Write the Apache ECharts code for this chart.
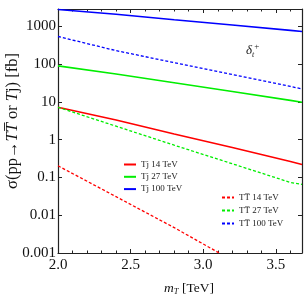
<!DOCTYPE html>
<html>
<head>
<meta charset="utf-8">
<script src="https://cdn.jsdelivr.net/npm/echarts@6/dist/echarts.min.js"></script>
<style>html,body{margin:0;padding:0;background:#fff}#c{width:305px;height:305px}</style>
</head>
<body>
<div id="c"></div>
<script>
// m_T [TeV]
var mT = [2.0, 2.4, 2.8, 3.2, 3.6, 3.68];
var tj14  = [7.24, 3.33, 1.42, 0.62, 0.264, 0.222];
var tj27  = [90.4, 54.8, 32.4, 18.9, 11.0, 9.84];
var tj100 = [2800, 2100, 1500, 1090, 787, 736];
var tt14m = [2.0, 2.4, 2.8, 3.11];
var tt14  = [0.204, 0.031, 0.0047, 0.001];
var tt27  = [7.24, 2.28, 0.718, 0.231, 0.074, 0.0655];
var tt100 = [542, 229, 110, 53.5, 25.8, 22.2];
var yTickValues = [0.001, 0.01, 0.1, 1, 10, 100, 1000];
var yTickLabels = ['0.001', '0.01', '0.1', '1', '10', '100', '1000'];
var xTickLabels = {'2': '2.0', '2.5': '2.5', '3': '3.0', '3.5': '3.5'};

function pairs(xs, ys) { return ys.map(function (v, i) { return [xs[i], v]; }); }

var FONT = 'Liberation Serif';
var RED = '#ff0000', GREEN = '#00ee00', BLUE = '#0000ff';
var NAME_TT = 'T\u0054\u0305';

function yLabel(v) {
  for (var i = 0; i < yTickValues.length; i++) {
    if (Math.abs(Math.log10(v) - Math.log10(yTickValues[i])) < 1e-6) return yTickLabels[i];
  }
  return '';
}

var axisLine = {show: true, lineStyle: {color: '#222', width: 1.2}};
var tick = {show: true, inside: true, length: 4, lineStyle: {color: '#222', width: 1}};
var chart = echarts.init(document.getElementById('c'), null, {renderer: 'canvas'});
chart.setOption({
  animation: false,
  grid: {left: 58, right: 3, top: 9, bottom: 52},
  xAxis: [{
    type: 'value', min: 2.0, max: 3.68, interval: 0.5, position: 'bottom',
    axisLine: axisLine, axisTick: tick,
    minorTick: {show: true, splitNumber: 5, length: 2.5, lineStyle: {color: '#222'}},
    splitLine: {show: false},
    axisLabel: {margin: 5, fontFamily: FONT, fontSize: 15, color: '#111',
      formatter: function (v) { return xTickLabels[String(v)] || ''; }, showMaxLabel: false}
  }, {
    type: 'value', min: 2.0, max: 3.68, interval: 0.5, position: 'top',
    axisLine: axisLine, axisTick: tick,
    minorTick: {show: true, splitNumber: 5, length: 2.5, lineStyle: {color: '#222'}},
    splitLine: {show: false}, axisLabel: {show: false}
  }],
  yAxis: [{
    type: 'log', logBase: 10, min: 0.001, max: 2900, position: 'left',
    axisLine: axisLine, axisTick: tick,
    splitLine: {show: false},
    axisLabel: {margin: 2, fontFamily: FONT, fontSize: 15, color: '#111', formatter: yLabel}
  }, {
    type: 'log', logBase: 10, min: 0.001, max: 2900, position: 'right',
    axisLine: axisLine, axisTick: tick,
    splitLine: {show: false}, axisLabel: {show: false}
  }],
  legend: [{
    orient: 'vertical', left: 123, top: 160, padding: 0, itemGap: 3.3,
    itemWidth: 12, itemHeight: 8, itemTextGap: 4,
    itemStyle: {opacity: 0},
    textStyle: {fontFamily: FONT, fontSize: 9, color: '#222'},
    data: ['Tj 14 TeV', 'Tj 27 TeV', 'Tj 100 TeV']
  }, {
    orient: 'vertical', left: 221, top: 193, padding: 0, itemGap: 4,
    itemWidth: 12, itemHeight: 8, itemTextGap: 4,
    itemStyle: {opacity: 0},
    textStyle: {fontFamily: FONT + ', DejaVu Serif', fontSize: 9, color: '#222'},
    data: [NAME_TT + ' 14 TeV', NAME_TT + ' 27 TeV', NAME_TT + ' 100 TeV']
  }],
  graphic: [{
    type: 'text', x: 12.5, y: 121, rotation: Math.PI / 2,
    style: {
      text: '{r|σ(pp→}{i|T}{i|T\u0305}{r| or }{i|T}{r|j) [fb]}',
      align: 'center', verticalAlign: 'middle',
      rich: {
        r: {fontFamily: FONT, fontSize: 16.5, fill: '#111'},
        i: {fontFamily: FONT + ', DejaVu Serif', fontStyle: 'italic', fontSize: 16.5, fill: '#111'}
      }
    }
  }, {
    type: 'text', x: 189, y: 288,
    style: {
      text: '{i|m}{s|T}{r| [TeV]}',
      align: 'center', verticalAlign: 'middle',
      rich: {
        r: {fontFamily: FONT, fontSize: 13.5, fill: '#111'},
        i: {fontFamily: FONT, fontStyle: 'italic', fontSize: 13.5, fill: '#111'},
        s: {fontFamily: FONT, fontStyle: 'italic', fontSize: 8.5, fill: '#111', padding: [7, 0, 0, 0]}
      }
    }
  }, {
    type: 'text', x: 246, y: 51,
    style: {
      text: '{i|δ}{s|t}{p|+}',
      align: 'left', verticalAlign: 'middle',
      rich: {
        i: {fontFamily: FONT, fontStyle: 'italic', fontSize: 13, fill: '#222'},
        s: {fontFamily: FONT, fontStyle: 'italic', fontSize: 8, fill: '#222', padding: [7, 0, 0, 0]},
        p: {fontFamily: FONT, fontSize: 9, fill: '#222', padding: [0, 0, 9, 0]}
      }
    }
  }],
  series: [
    {name: 'Tj 14 TeV', type: 'line', symbol: 'none', data: pairs(mT, tj14), lineStyle: {color: RED, width: 1.6}, itemStyle: {color: RED}},
    {name: 'Tj 27 TeV', type: 'line', symbol: 'none', data: pairs(mT, tj27), lineStyle: {color: GREEN, width: 1.6}, itemStyle: {color: GREEN}},
    {name: 'Tj 100 TeV', type: 'line', symbol: 'none', data: pairs(mT, tj100), lineStyle: {color: BLUE, width: 1.6}, itemStyle: {color: BLUE}},
    {name: NAME_TT + ' 14 TeV', type: 'line', symbol: 'none', data: pairs(tt14m, tt14), lineStyle: {color: RED, width: 1.3, type: [3, 2]}, itemStyle: {color: RED}},
    {name: NAME_TT + ' 27 TeV', type: 'line', symbol: 'none', data: pairs(mT, tt27), lineStyle: {color: GREEN, width: 1.3, type: [3, 2]}, itemStyle: {color: GREEN}},
    {name: NAME_TT + ' 100 TeV', type: 'line', symbol: 'none', data: pairs(mT, tt100), lineStyle: {color: BLUE, width: 1.3, type: [3, 2]}, itemStyle: {color: BLUE}}
  ]
});
</script>
</body>
</html>
